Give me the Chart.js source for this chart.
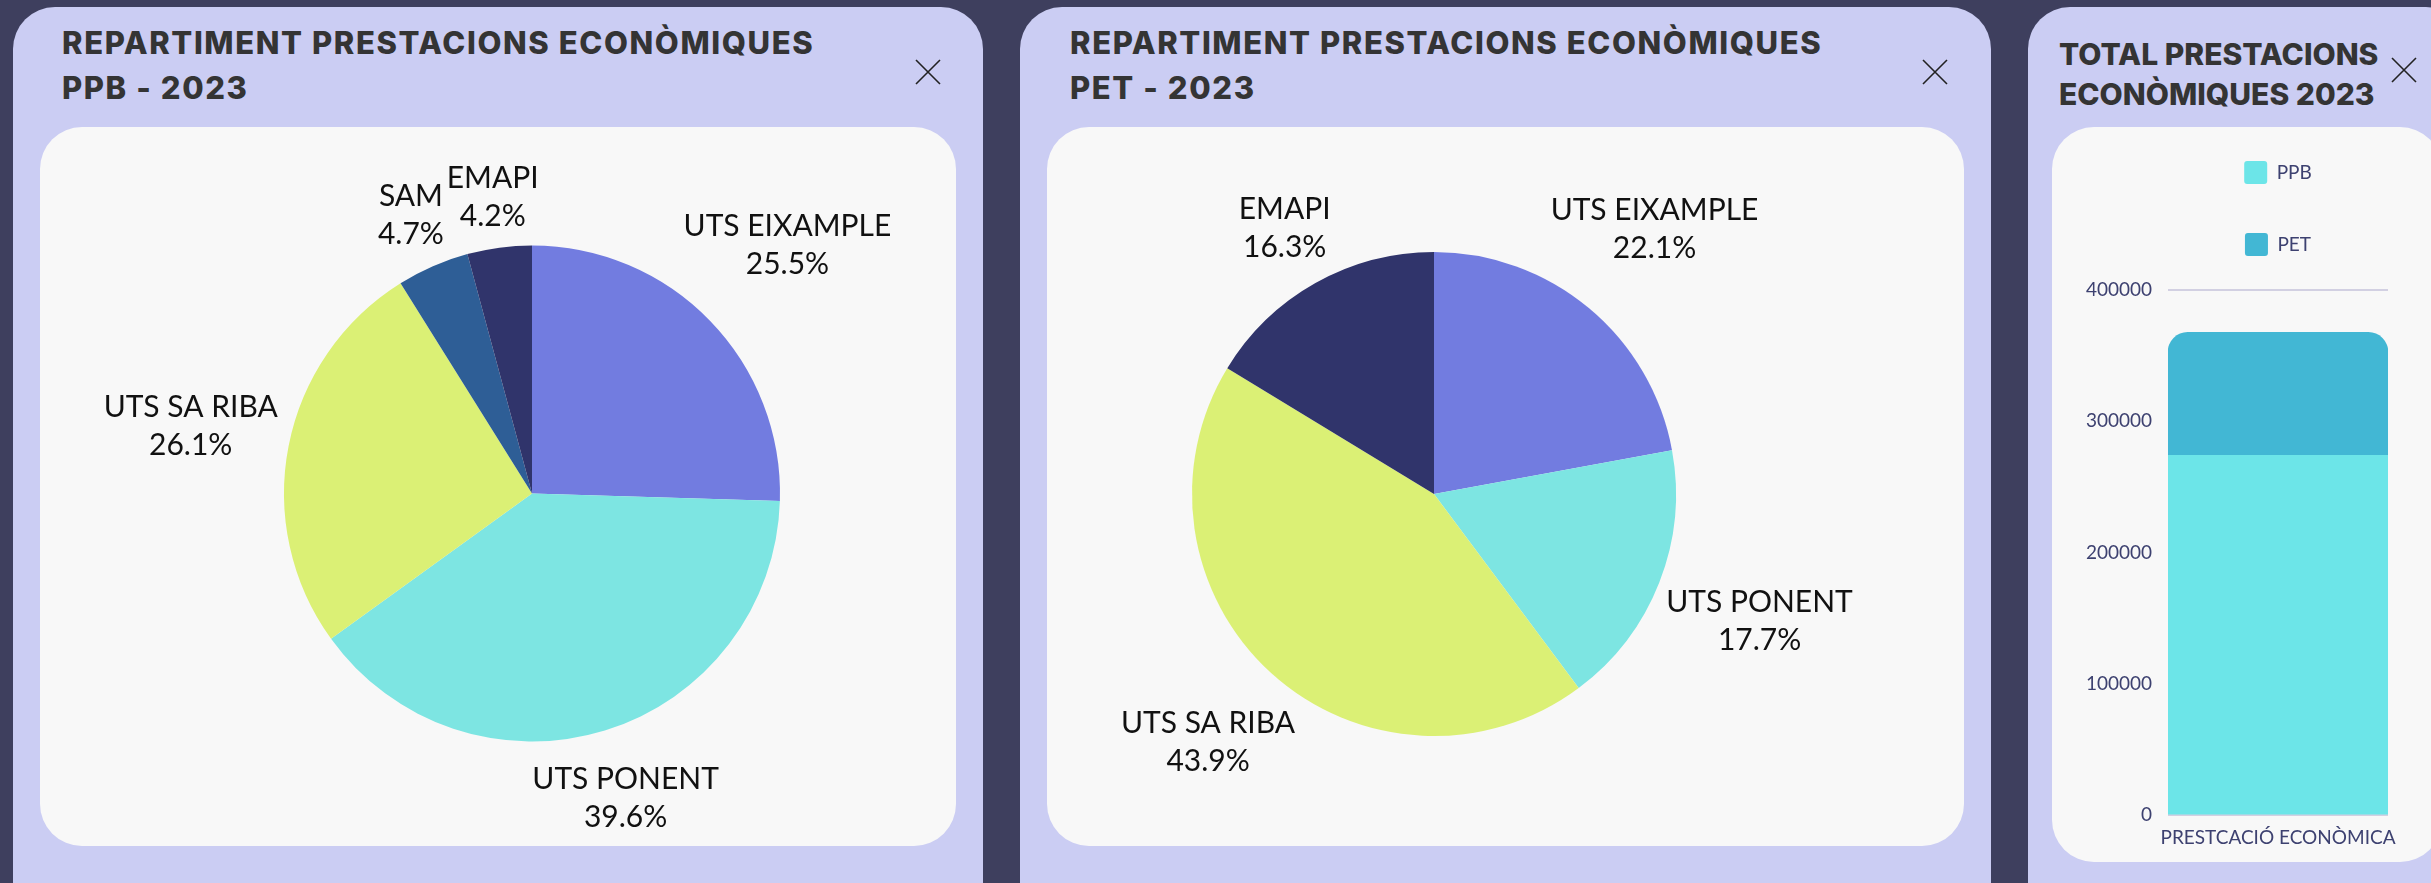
<!DOCTYPE html>
<html>
<head>
<meta charset="utf-8">
<script src="https://cdn.jsdelivr.net/npm/chart.js"></script>
<style>
  html, body { margin: 0; padding: 0; width: 2431px; height: 883px; overflow: hidden; background: #3e3f5e; }
  .panel { position: absolute; top: 7px; height: 940px; background: #cbcdf3; border-radius: 42px; }
  .box { position: absolute; background: #f8f8f8; border-radius: 42px; }
  .title { position: absolute; font-family: Inter, sans-serif; font-weight: 800; font-size: 30px; color: #343434; white-space: nowrap; }
  .wide { font-size: 31px; letter-spacing: 1.6px; }
  .close { position: absolute; width: 26px; height: 26px; }
  canvas { position: absolute; }
</style>
</head>
<body>
<!-- panel 1 -->
<div class="panel" style="left:13px;width:970px"></div>
<div class="box" style="left:40px;top:127px;width:916px;height:719px"></div>
<div class="title wide" style="left:62px;top:20px;line-height:45px">REPARTIMENT PRESTACIONS ECONÒMIQUES<br>PPB - 2023</div>
<svg class="close" style="left:915px;top:59px" viewBox="0 0 26 26"><path d="M1 1L25 25M25 1L1 25" stroke="#222" stroke-width="1.6"/></svg>
<canvas id="pie1" width="916" height="719" style="left:40px;top:127px"></canvas>

<!-- panel 2 -->
<div class="panel" style="left:1020px;width:971px"></div>
<div class="box" style="left:1047px;top:127px;width:917px;height:719px"></div>
<div class="title wide" style="left:1070px;top:20px;line-height:45px">REPARTIMENT PRESTACIONS ECONÒMIQUES<br>PET - 2023</div>
<svg class="close" style="left:1922px;top:59px" viewBox="0 0 26 26"><path d="M1 1L25 25M25 1L1 25" stroke="#222" stroke-width="1.6"/></svg>
<canvas id="pie2" width="917" height="719" style="left:1047px;top:127px"></canvas>

<!-- panel 3 -->
<div class="panel" style="left:2028px;width:440px"></div>
<div class="box" style="left:2052px;top:127px;width:390px;height:735px"></div>
<div class="title" style="left:2059px;top:34px;line-height:40px">TOTAL PRESTACIONS<br>ECONÒMIQUES 2023</div>
<svg class="close" style="left:2391px;top:57px" viewBox="0 0 26 26"><path d="M1 1L25 25M25 1L1 25" stroke="#222" stroke-width="1.6"/></svg>
<canvas id="bar" width="379" height="762" style="left:2052px;top:100px"></canvas>

<script>
// pie PPB
const pieLabels1 = ['UTS EIXAMPLE', 'UTS PONENT', 'UTS SA RIBA', 'SAM', 'EMAPI'];
const pieValues1 = [25.5, 39.6, 26.1, 4.7, 4.2];
const pieColors1 = ['#727ce0', '#7de5e2', '#dbf075', '#2e5e96', '#30346b'];

// pie PET
const pieLabels2 = ['UTS EIXAMPLE', 'UTS PONENT', 'UTS SA RIBA', 'EMAPI'];
const pieValues2 = [22.1, 17.7, 43.9, 16.3];
const pieColors2 = ['#727ce0', '#7de5e2', '#dbf075', '#30346b'];

// stacked bar
const barCategories = ['PRESTCACIÓ ECONÒMICA'];
const ppbValues = [274000];
const petValues = [93700];
const yTicks = [0, 100000, 200000, 300000, 400000];

// labels outside the slices: name + percent, centred on the mid-angle ray
const outsideLabels = {
  id: 'outsideLabels',
  afterDatasetsDraw(chart) {
    const ctx = chart.ctx;
    const meta = chart.getDatasetMeta(0);
    const values = chart.data.datasets[0].data;
    const lh = 38, off = 7;
    ctx.save();
    ctx.font = '30px Lato';
    ctx.fillStyle = '#111';
    ctx.textAlign = 'center';
    ctx.textBaseline = 'middle';
    meta.data.forEach((arc, i) => {
      const lines = [chart.data.labels[i], values[i].toFixed(1) + '%'];
      const hw = Math.max(...lines.map(t => ctx.measureText(t).width)) / 2;
      const hh = lines.length * lh / 2;
      const a = (arc.startAngle + arc.endAngle) / 2;
      const vx = Math.cos(a), vy = Math.sin(a);
      const d = arc.outerRadius + off + Math.abs(vx) * hw + Math.abs(vy) * hh;
      const cx = arc.x + vx * d;
      const cy = arc.y + vy * d;
      lines.forEach((t, k) => ctx.fillText(t, cx, cy + (k - (lines.length - 1) / 2) * lh));
    });
    ctx.restore();
  }
};

function pieConfig(labels, values, colors, padding) {
  return {
    type: 'pie',
    data: {
      labels: labels,
      datasets: [{ data: values, backgroundColor: colors, borderWidth: 0 }]
    },
    options: {
      responsive: false,
      animation: false,
      layout: { padding: padding },
      plugins: { legend: { display: false }, tooltip: { enabled: false } }
    },
    plugins: [outsideLabels]
  };
}

new Chart(document.getElementById('pie1'),
  pieConfig(pieLabels1, pieValues1, pieColors1, { left: 244, right: 176, top: 118, bottom: 104 }));
new Chart(document.getElementById('pie2'),
  pieConfig(pieLabels2, pieValues2, pieColors2, { left: 145, right: 288, top: 125, bottom: 110 }));

const tickColor = '#3d4170';
const tickFont = { family: 'Lato', size: 19 };

new Chart(document.getElementById('bar'), {
  type: 'bar',
  data: {
    labels: barCategories,
    datasets: [
      { label: 'PPB', data: ppbValues, backgroundColor: '#6ce5e8', borderRadius: 0 },
      { label: 'PET', data: petValues, backgroundColor: '#42b7d4', borderRadius: 20 }
    ]
  },
  options: {
    responsive: false,
    animation: false,
    layout: { padding: { top: 12, right: 43, bottom: 2, left: 0 } },
    datasets: { bar: { barPercentage: 1, categoryPercentage: 1 } },
    plugins: {
      legend: {
        position: 'top',
        fullSize: false,
        labels: {
          boxWidth: 23, boxHeight: 23, padding: 49,
          font: tickFont, color: tickColor,
          useBorderRadius: true, borderRadius: 3
        }
      },
      // empty title used as a spacer between legend and plot
      title: { display: true, text: '', weight: 500, padding: 0, font: { size: 20, lineHeight: 1.2 } },
      tooltip: { enabled: false }
    },
    scales: {
      x: {
        stacked: true,
        grid: { display: false, drawTicks: false },
        border: { display: false },
        ticks: { font: tickFont, color: tickColor, padding: 11, maxRotation: 0, minRotation: 0 }
      },
      y: {
        stacked: true,
        min: 0,
        max: 400000,
        afterBuildTicks: s => { s.ticks = yTicks.map(v => ({ value: v })); },
        afterFit: s => { s.width = 116; },
        grid: { color: '#d2d0e2', lineWidth: 2, drawTicks: false },
        border: { display: false },
        ticks: { font: tickFont, color: tickColor, padding: 16, callback: v => String(v) }
      }
    }
  }
});
</script>
</body>
</html>
